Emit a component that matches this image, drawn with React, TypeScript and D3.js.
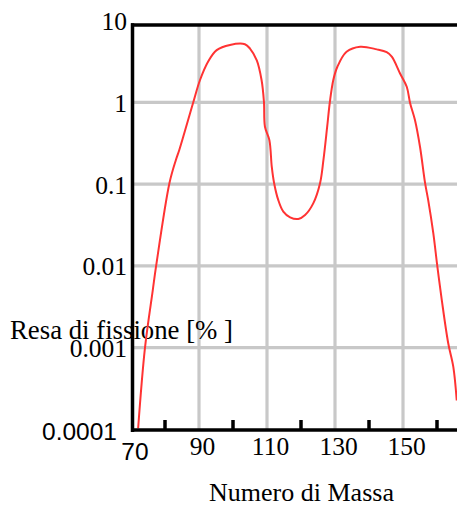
import React from "react";
import * as d3 from "d3";

const massNumbers = [72.1, 74.1, 76.4, 77.4, 81.3, 83.2, 84.2, 88.3, 90.3, 92.7, 95.2, 99.1, 103.5, 105.0, 107.0, 108.4, 109.1, 109.4, 110.7, 111.4, 112.1, 113.3, 114.8, 116.8, 119.2, 121.2, 123.6, 125.6, 126.6, 127.7, 128.5, 129.5, 130.7, 133.4, 137.4, 142.3, 145.2, 146.7, 149.1, 151.1, 152.1, 153.5, 155.0, 156.5, 157.4, 158.9, 160.1, 161.4, 163.3, 164.8, 165.8];
const yields = [1.05e-4, 1.0e-3, 5.1e-3, 0.0102, 0.104, 0.2, 0.265, 1.01, 1.9, 3.2, 4.4, 5.1, 5.2, 4.6, 3.3, 1.9, 1.03, 0.51, 0.35, 0.166, 0.104, 0.065, 0.0467, 0.0398, 0.038, 0.0425, 0.059, 0.104, 0.2, 0.51, 1.03, 1.9, 2.76, 4.2, 4.85, 4.5, 4.15, 3.66, 2.3, 1.57, 0.99, 0.62, 0.29, 0.104, 0.065, 0.0257, 0.01, 0.0039, 0.00115, 5.9e-4, 2.3e-4];

const xGridValues = [90, 110, 130, 150];
const xTickValues = [80, 100, 120, 140, 160];
const xLabelValues = [90, 110, 130, 150];
const yGridValues = [1, 0.1, 0.01, 0.001];
const yLabelValues = [10, 1, 0.1, 0.01, 0.001];
const yLabelTexts = ["10", "1", "0.1", "0.01", "0.001"];

const W = 457;
const H = 506;

export default function App() {
  const x = d3.scaleLinear().domain([70, 70 + (457 - 131) / 3.4]).range([131, 457]);
  const y = d3.scaleLog().domain([1e-4, 10]).range([430, 21]);
  const plotTop = 25;
  const plotBottom = 430;
  const plotLeft = 132.5;

  const pts = massNumbers.map((m, i) => [m, yields[i]] as [number, number]);
  const line = d3
    .line<[number, number]>()
    .x((d) => x(d[0]))
    .y((d) => y(d[1]))
    .curve(d3.curveCatmullRom.alpha(0.5));

  const serif = "'Liberation Serif', 'Times New Roman', serif";
  const sans = "'Liberation Sans', Arial, sans-serif";

  return (
    <svg
      width={W}
      height={H}
      style={{ position: "absolute", left: 0, top: 0, background: "#fff" }}
    >
      <defs>
        <clipPath id="plot">
          <rect x={plotLeft} y={plotTop} width={W - plotLeft} height={plotBottom - plotTop} />
        </clipPath>
      </defs>
      <rect x={0} y={0} width={W} height={H} fill="#fff" />
      {yGridValues.map((v) => (
        <line key={"hy" + v} x1={plotLeft} x2={W} y1={y(v) - 0.5} y2={y(v) - 0.5} stroke="#c8c8c8" strokeWidth={3.2} />
      ))}
      {xGridValues.map((v) => (
        <line key={"vx" + v} x1={x(v)} x2={x(v)} y1={plotTop} y2={plotBottom} stroke="#c8c8c8" strokeWidth={3.2} />
      ))}
      <text x={10} y={339} fontFamily={serif} fontSize={26.5} fill="#000" textLength={223} lengthAdjust="spacingAndGlyphs">
        Resa di fissione [% ]
      </text>
      {yLabelValues.map((v, i) => (
        <text key={"yl" + v} x={127} y={y(v) + 9} textAnchor="end" fontFamily={serif} fontSize={25.5} fill="#000">
          {yLabelTexts[i]}
        </text>
      ))}
      <text x={117} y={440} textAnchor="end" fontFamily={sans} fontSize={24.5} fill="#000">
        0.0001
      </text>
      <text x={x(70) + 4} y={460} textAnchor="middle" fontFamily={sans} fontSize={24.5} fill="#000">
        70
      </text>
      {xLabelValues.map((v) => (
        <text key={"xl" + v} x={x(v) + 3.5} y={455} textAnchor="middle" fontFamily={serif} fontSize={25.5} fill="#000">
          {String(v)}
        </text>
      ))}
      <text x={301.5} y={501} textAnchor="middle" fontFamily={serif} fontSize={26} fill="#000">
        Numero di Massa
      </text>
      <path d={line(pts) || ""} fill="none" stroke="#ff3333" strokeWidth={2} clipPath="url(#plot)" />
      <line x1={131} x2={W} y1={plotTop} y2={plotTop} stroke="#000" strokeWidth={3.5} />
      <line x1={131} x2={W} y1={plotBottom} y2={plotBottom} stroke="#000" strokeWidth={3.5} />
      <line x1={plotLeft} x2={plotLeft} y1={23.3} y2={432} stroke="#000" strokeWidth={3.5} />
      {xTickValues.map((v) => (
        <line key={"t" + v} x1={x(v)} x2={x(v)} y1={420} y2={plotBottom} stroke="#000" strokeWidth={3.5} />
      ))}
    </svg>
  );
}
